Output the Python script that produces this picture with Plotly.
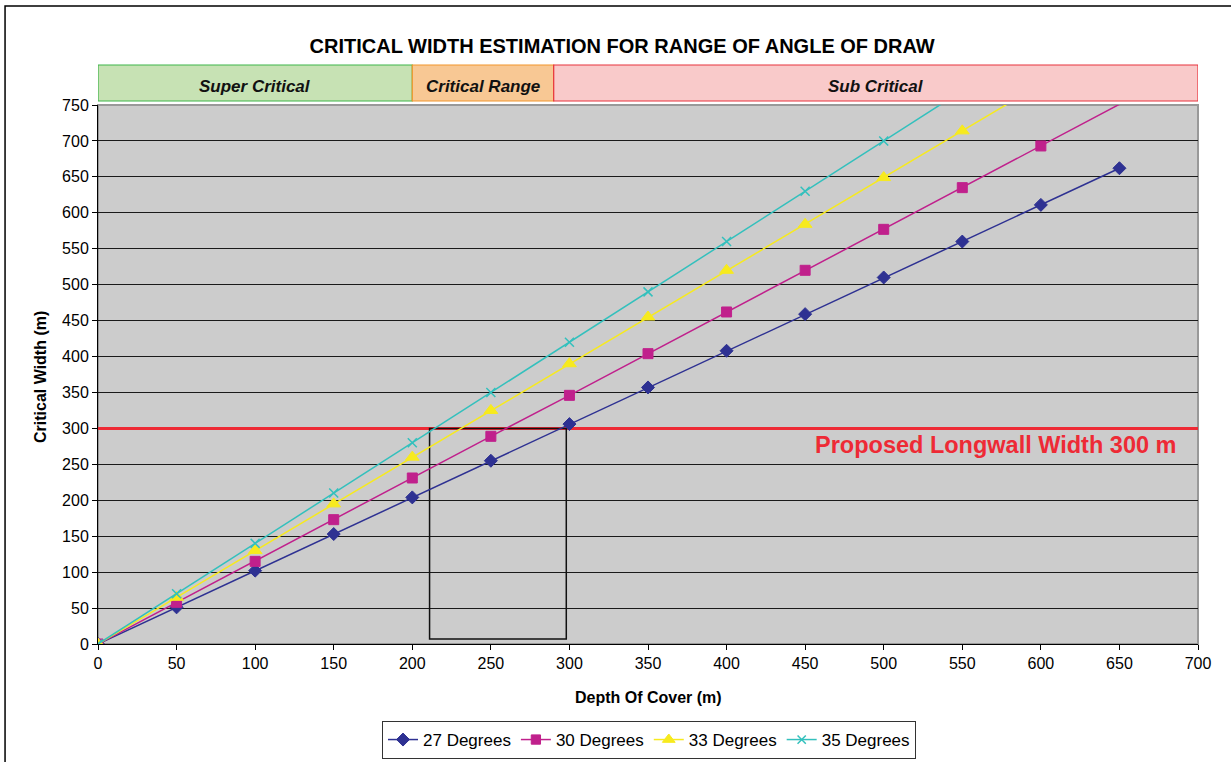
import plotly.graph_objects as go

depth = [0, 50, 100, 150, 200, 250, 300, 350, 400, 450, 500, 550, 600, 650]
w27 = [0, 51, 102, 153, 204, 255, 306, 357, 408, 459, 510, 560, 611, 662]
w30 = [0, 58, 115, 173, 231, 289, 346, 404, 462, 520, 577, 635, 693, 751]
w33 = [0, 65, 130, 195, 260, 325, 390, 455, 520, 584, 649, 714, 779]
w35 = [0, 70, 140, 210, 280, 350, 420, 490, 560, 630, 700, 770]
series_names = ["27 Degrees", "30 Degrees", "33 Degrees", "35 Degrees"]

zones = [("Super Critical", 0, 200), ("Critical Range", 200, 290), ("Sub Critical", 290, 700)]
longwall_width = 300
box_x = [211, 298]
box_y = [7, 300]

Y_MAX = 750
X_MAX = 700

colors = ["#2E3192", "#C0208C", "#F7EA1E", "#33C0BD"]
symbols = ["diamond", "square", "triangle-up", "x-thin"]
msizes = [10, 10, 12, 9]

fig = go.Figure()
for name, ys, c, s, ms in zip(series_names, [w27, w30, w33, w35], colors, symbols, msizes):
    xs = depth[:len(ys)]
    sizes = [ms if v <= Y_MAX else 0 for v in ys]
    marker = dict(symbol=s, size=sizes, color=c, opacity=1, line=dict(color=c, width=1))
    if s == "x-thin":
        marker["line"] = dict(color=c, width=1.5)
    fig.add_trace(go.Scatter(x=xs, y=ys, name=name, mode="lines+markers",
                             line=dict(color=c, width=1.5), marker=marker))

font_family = "Liberation Sans, Arial, sans-serif"

shapes = []
# outer border
shapes.append(dict(type="rect", xref="paper", yref="paper", x0=-0.0845, x1=1.04, y0=-0.25, y1=1.1837,
                   line=dict(color="#000", width=1.5), fillcolor="rgba(0,0,0,0)", layer="below"))
zone_styles = [("#C7E2B4", "#3FB54A"), ("#F8C894", "#F2962C"), ("#F9CACA", "#E8323C")]
annotations = []
for (label, a, b), (fc, lc) in zip(zones, zone_styles):
    shapes.append(dict(type="rect", xref="x", yref="paper", x0=a, x1=b, y0=1.0074, y1=1.0742,
                       fillcolor=fc, line=dict(color=lc, width=1.2)))
    annotations.append(dict(x=(a + b) / 2, y=1.0334, xref="x", yref="paper", xanchor="center", yanchor="middle",
                            text="<b><i>" + label + "</i></b>",
                            showarrow=False, font=dict(size=17, color="#111", family=font_family)))
# plot border
shapes.append(dict(type="rect", xref="paper", yref="paper", x0=0, x1=1, y0=0, y1=1,
                   line=dict(color="#999", width=2), fillcolor="rgba(0,0,0,0)", layer="below"))
shapes.append(dict(type="line", xref="x", yref="y", x0=0, x1=X_MAX, y0=longwall_width, y1=longwall_width,
                   line=dict(color="#EE2A35", width=3), layer="between"))
shapes.append(dict(type="rect", xref="x", yref="y", x0=box_x[0], x1=box_x[1], y0=box_y[0], y1=box_y[1],
                   line=dict(color="#111", width=1.5), fillcolor="rgba(0,0,0,0)", layer="between"))

annotations.append(dict(x=571, y=277, xref="x", yref="y", xanchor="center", yanchor="middle",
                        text="<b>Proposed Longwall Width 300 m</b>",
                        showarrow=False, font=dict(size=23.5, color="#EE2A35", family=font_family)))
annotations.append(dict(x=0.5, y=(644 - 697) / 539, xref="paper", yref="paper", xanchor="center", yanchor="middle",
                        text="<b>Depth Of Cover (m)</b>",
                        showarrow=False, font=dict(size=16, color="#000", family=font_family)))
annotations.append(dict(x=(40 - 98) / 1100, y=(644 - 377) / 539, xref="paper", yref="paper",
                        xanchor="center", yanchor="middle", text="<b>Critical Width (m)</b>",
                        textangle=-90, showarrow=False, font=dict(size=16, color="#000", family=font_family)))

fig.update_layout(
    width=1231, height=762,
    margin=dict(l=98, r=33, t=105, b=118),
    paper_bgcolor="white", plot_bgcolor="#CCCCCC",
    font=dict(family=font_family, size=16, color="#000"),
    title=dict(text="<b>CRITICAL WIDTH ESTIMATION FOR RANGE OF ANGLE OF DRAW</b>", x=0.5054, xanchor="center",
               y=1 - 46 / 762, yanchor="middle", font=dict(size=20, color="#000", family=font_family)),
    shapes=shapes, annotations=annotations,
    showlegend=True,
    legend=dict(orientation="h", x=649 / 1231, xref="container", xanchor="center",
                y=1 - 740 / 762, yref="container", yanchor="middle",
                bgcolor="white", bordercolor="#333", borderwidth=1, font=dict(size=17),
                itemwidth=30, tracegroupgap=0),
)
fig.update_xaxes(range=[0, X_MAX], dtick=50, tick0=0, showgrid=False, zeroline=False,
                 showline=True, linecolor="#000", linewidth=1, ticks="outside", ticklen=5, tickcolor="#000",
                 tickfont=dict(size=16))
fig.update_yaxes(range=[0, Y_MAX], dtick=50, tick0=0, showgrid=True, gridcolor="#1a1a1a", gridwidth=1,
                 zeroline=False, showline=True, linecolor="#000", linewidth=1, ticks="outside", ticklen=5,
                 tickcolor="#000", tickfont=dict(size=16))

fig.write_html("out.html", config={"displayModeBar": False},
               post_script="document.body.style.margin='0px';")
